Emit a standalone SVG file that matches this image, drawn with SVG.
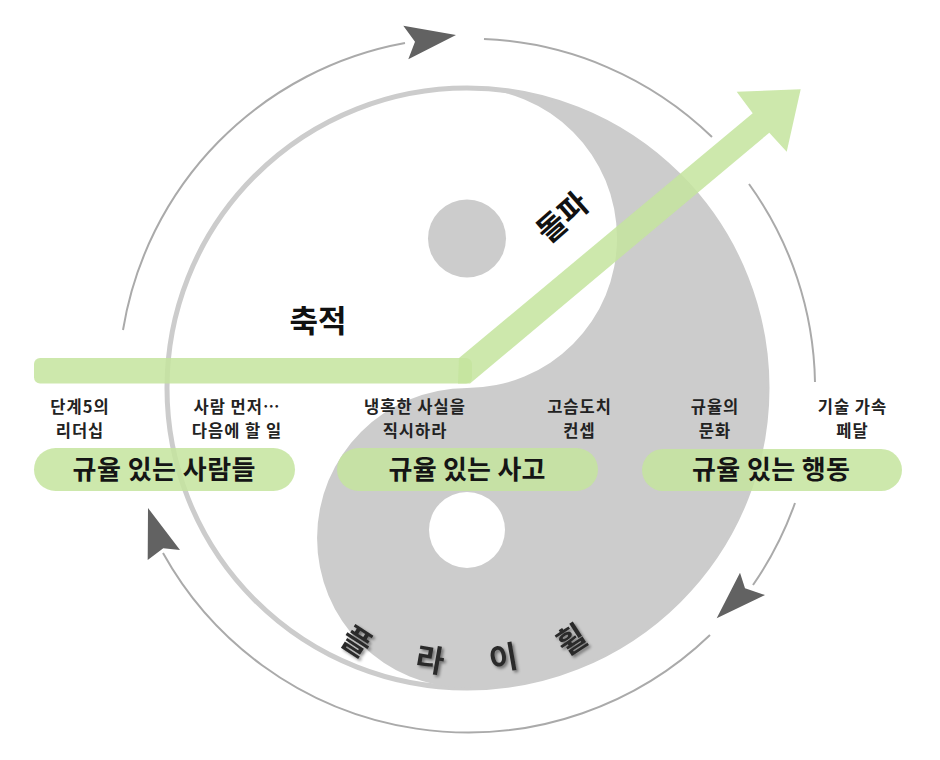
<svg xmlns="http://www.w3.org/2000/svg" width="940" height="760" viewBox="0 0 940 760">
<defs>
<style>
.ring{fill:none;stroke:#aaaaaa;stroke-width:2}
.head{fill:#626262}
.green{fill:rgb(196,228,158);fill-opacity:0.85}
.lbl{font-family:"Noto Sans CJK KR","Noto Sans",sans-serif;font-size:16.5px;font-weight:700;letter-spacing:1px;fill:#222;text-anchor:middle}
.pill{font-family:"Noto Sans CJK KR","Noto Sans",sans-serif;font-size:26px;font-weight:700;fill:#151515;text-anchor:middle}
.big{font-family:"Noto Sans CJK KR","Noto Sans",sans-serif;font-size:31px;font-weight:700;fill:#111;text-anchor:middle}
.fly{font-family:"Noto Sans CJK KR","Noto Sans",sans-serif;font-size:31px;font-weight:700;fill:#2a2a2a;text-anchor:middle}
</style>
<filter id="shadow" x="-30%" y="-30%" width="160%" height="160%">
<feDropShadow dx="2" dy="2" stdDeviation="1.5" flood-color="#000" flood-opacity="0.45"/>
</filter>
</defs>
<rect width="940" height="760" fill="#ffffff"/>

<g id="yin-yang">
<circle cx="467" cy="388" r="300" fill="#ffffff" stroke="#cccccc" stroke-width="5"/>
<path d="M467,88 A300,300 0 0 1 467,688 A150,150 0 0 1 467,388 A150,150 0 0 0 467,88 Z" fill="#cccccc"/>
<circle cx="467" cy="238.5" r="39" fill="#cccccc"/>
<circle cx="467" cy="530" r="38" fill="#ffffff"/>
</g>

<g id="connectors">
<path class="ring" d="M123,330 A349,349 0 0 1 405,43"/>
<path class="ring" d="M484,39 A349,349 0 0 1 712,137"/>
<path class="ring" d="M749,184 A349,349 0 0 1 815,382"/>
<path class="ring" d="M795,503 A349,349 0 0 1 753,585"/>
<path class="ring" d="M710,635 A349,349 0 0 1 163,553"/>
<polygon class="head" points="403.3,25.7 456,35 408.3,59.3 415,41.7"/>
<polygon class="head" points="716.7,618.3 740,572.7 745,588.3 765,595"/>
<polygon class="head" points="148,508 180,550 163.3,548.3 147.7,560"/>
</g>

<g id="growth-arrow">
<rect class="green" x="34" y="358" width="438" height="25.5" rx="6"/>
<polygon class="green" points="459,358 752.7,113.3 736.7,91.7 800.7,89.3 786.7,151.7 769.3,132.7 470,383.5 458,383.5"/>
<text class="big" x="318" y="332">축적</text>
<text class="big" transform="translate(562.5,217.5) rotate(-41.4)" x="0" y="11">돌파</text>
</g>

<g id="node-people">
<text class="lbl" y="413"><tspan x="80">단계5의</tspan><tspan x="80" dy="24">리더십</tspan></text>
<text class="lbl" y="413"><tspan x="237">사람 먼저…</tspan><tspan x="237" dy="24">다음에 할 일</tspan></text>
<rect class="green" x="34" y="448" width="261" height="43" rx="21.5"/>
<text class="pill" x="164" y="479" textLength="183">규율 있는 사람들</text>
</g>

<g id="node-thought">
<text class="lbl" y="413"><tspan x="415">냉혹한 사실을</tspan><tspan x="415" dy="24">직시하라</tspan></text>
<text class="lbl" y="413"><tspan x="579.5">고슴도치</tspan><tspan x="579.5" dy="24">컨셉</tspan></text>
<rect class="green" x="337" y="448" width="261" height="43" rx="21.5"/>
<text class="pill" x="467" y="479" textLength="157">규율 있는 사고</text>
</g>

<g id="node-action">
<text class="lbl" y="413"><tspan x="715">규율의</tspan><tspan x="715" dy="24">문화</tspan></text>
<text class="lbl" y="413"><tspan x="852.5">기술 가속</tspan><tspan x="852.5" dy="24">페달</tspan></text>
<rect class="green" x="642" y="449" width="260" height="42" rx="21"/>
<text class="pill" x="771" y="479" textLength="158">규율 있는 행동</text>
</g>

<g id="flywheel-label" filter="url(#shadow)">
<text class="fly" transform="translate(356.7,641.7) rotate(33)" x="0" y="11">플</text>
<text class="fly" transform="translate(430,660) rotate(10)" x="0" y="11">라</text>
<text class="fly" transform="translate(503.3,658.3) rotate(-10)" x="0" y="11">이</text>
<text class="fly" transform="translate(571.7,640) rotate(-33)" x="0" y="11">휠</text>
</g>
</svg>
